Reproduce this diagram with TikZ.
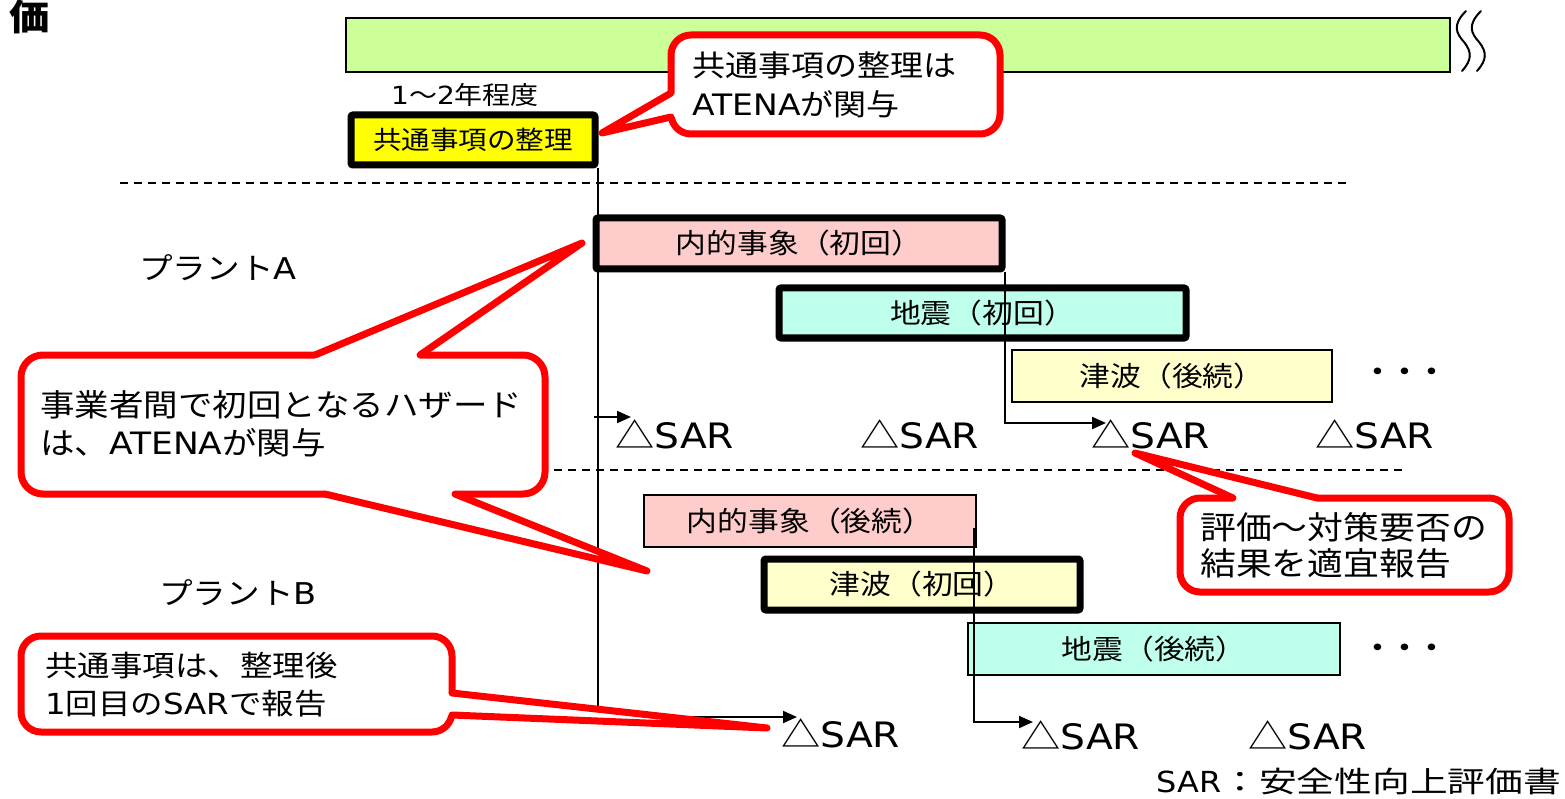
\documentclass[tikz,border=0pt]{standalone}
\usepackage{fontspec}
\setmainfont[FakeStretch=1.12]{Noto Sans CJK JP}
\newfontfamily\latfam[FakeStretch=1.12]{DejaVu Sans}
\newfontfamily\legendfont[FakeStretch=1.3]{Noto Sans CJK JP}
\newfontfamily\legendlatfam[FakeStretch=1.1]{DejaVu Sans}
\newcommand{\LatTxt}[1]{{\latfam #1}}
\newcommand{\LegLat}[1]{{\legendlatfam #1}}
\usetikzlibrary{arrows.meta,calc}

\definecolor{barg}{HTML}{CCFF99}
\definecolor{boxyel}{HTML}{FFFF00}
\definecolor{boxpink}{HTML}{FFCCCC}
\definecolor{boxcyan}{HTML}{BFFFEE}
\definecolor{boxlyel}{HTML}{FFFFCC}
\definecolor{callred}{HTML}{FF0000}

\begin{document}
\begin{tikzpicture}[x=1pt,y=-1pt,
  thickbox/.style={draw=black, line width=7pt, rounded corners=2pt, inner sep=0pt, font=\fontsize{27.5}{32}\selectfont},
  thinbox/.style={draw=black, line width=1.8pt, inner sep=0pt, font=\fontsize{27.5}{32}\selectfont},
  conn/.style={line width=2pt, draw=black},
  arr/.style={conn, -{Triangle[length=14pt,width=12pt]}},
  sar/.style={anchor=west, inner sep=0pt, font=\fontsize{35}{38}\selectfont},
  callbox/.style={draw=callred, fill=white, line width=7pt, rounded corners=20pt, inner sep=0pt},
  callline/.style={draw=callred, line width=7pt, line join=round, line cap=round},
  calltext/.style={anchor=west, align=left, inner sep=0pt},
  dashline/.style={line width=1.6pt, dash pattern=on 8pt off 6pt},
  dotsnode/.style={inner sep=0pt, font=\bfseries\fontsize{24}{24}\selectfont},
  plainlabel/.style={inner sep=0pt, font=\fontsize{30}{32}\selectfont},
  squig/.style={line width=2pt, line cap=round}
]
\useasboundingbox (0,0) rectangle (1565,799);

% title fragment
\node[inner sep=0pt, font=\bfseries\fontsize{36}{36}\selectfont] (title) at (30,17) {価};

% green bar and break marks
\node[draw=black, line width=1.5pt, fill=barg, minimum width=1104pt, minimum height=54pt, inner sep=0pt] (bar) at (898,45) {};
\draw[squig] (1466,11) .. controls (1452,25) and (1456,33) .. (1464,42) .. controls (1472,52) and (1472,60) .. (1462,71);
\draw[squig] (1481,11) .. controls (1467,25) and (1471,33) .. (1479,42) .. controls (1487,52) and (1487,60) .. (1477,71);

% common item
\node[inner sep=0pt, font=\fontsize{25}{28}\selectfont] (dur) at (465,95) {\LatTxt{1}〜\LatTxt{2}年程度};
\node[thickbox, fill=boxyel, minimum width=244pt, minimum height=50pt, font=\fontsize{25.5}{30}\selectfont] (yel) at (473,140) {共通事項の整理};

% dashed separators
\coordinate (d1a) at (120,183);
\coordinate (d1b) at (1350,183);
\draw[dashline] (d1a) -- (d1b);
\coordinate (d2a) at (120,470);
\coordinate (d2b) at (1402,470);
\draw[dashline] (d2a) -- (d2b);

% plant labels
\node[plainlabel] (plA) at (218,268) {プラント\LatTxt{A}};
\node[plainlabel] (plB) at (238,593) {プラント\LatTxt{B}};

% plant A boxes
\node[thickbox, fill=boxpink, minimum width=406pt, minimum height=51pt] (ia) at (799,243.5) {内的事象（初回）};
\node[thickbox, fill=boxcyan, minimum width=407pt, minimum height=50pt] (ja) at (982.5,313) {地震（初回）};
\node[thinbox, fill=boxlyel, minimum width=320pt, minimum height=52pt] (ta) at (1172,376) {津波（後続）};
\node[dotsnode] (dotsA) at (1405,374) {・・・};

% plant B boxes
\node[thinbox, fill=boxpink, minimum width=332pt, minimum height=52pt] (ib) at (810,521) {内的事象（後続）};
\node[thickbox, fill=boxlyel, minimum width=316pt, minimum height=51pt] (tb) at (922,584.5) {津波（初回）};
\node[thinbox, fill=boxcyan, minimum width=372pt, minimum height=52pt] (jb) at (1154,649) {地震（後続）};
\node[dotsnode] (dotsB) at (1405,650) {・・・};

% SAR marks
\node[sar] (sa1) at (615,434) {△\LatTxt{SAR}};
\node[sar] (sa2) at (860,434) {△\LatTxt{SAR}};
\node[sar] (sa3) at (1091,434) {△\LatTxt{SAR}};
\node[sar] (sa4) at (1315,434) {△\LatTxt{SAR}};
\node[sar] (sb1) at (781,733) {△\LatTxt{SAR}};
\node[sar] (sb2) at (1021,735) {△\LatTxt{SAR}};
\node[sar] (sb3) at (1248,735) {△\LatTxt{SAR}};

% connectors
\coordinate (pa1) at (631,417);
\coordinate (ja1) at (594,417);
\coordinate (pa3) at (1106,423);
\coordinate (pb1) at (797,717);
\coordinate (pb2) at (1033,722);
\draw[arr] ($(yel.south east)+(-1,0)$) |- (pb1);
\draw[arr] (ja1) -- (pa1);
\draw[arr] ($(ia.south east)+(-1,0)$) |- (pa3);
\draw[arr] ($(ib.east)+(-3,7)$) |- (pb2);

% legend
\node[inner sep=0pt, anchor=east, font=\legendfont\fontsize{29}{32}\selectfont] (legend) at (1561,781) {\LegLat{SAR}：安全性向上評価書};

% callout 1 (top)
\node[callbox, minimum width=329pt, minimum height=99pt] (cb1) at (835.5,84.5) {};
\coordinate (t1) at (602,133);
\fill[white] (671,93) -- (t1) -- (671,117) -- (681,117) -- (681,93) -- cycle;
\draw[callline] (671,93) -- (t1) -- (671,117);
\node[calltext, font=\fontsize{29.5}{39}\selectfont] (ct1) at (692,85) {共通事項の整理は\\\LatTxt{ATENA}が関与};

% callout 2 (big left)
\node[callbox, rounded corners=22pt, minimum width=524pt, minimum height=139pt] (cb2) at (283,424.5) {};
\coordinate (t2a) at (582,243);
\coordinate (t2b) at (647,571);
\fill[white] (315,355) -- (t2a) -- (420,355) -- (420,365) -- (315,365) -- cycle;
\draw[callline] (315,355) -- (t2a) -- (420,355);
\fill[white] (455,494) -- (t2b) -- (325,494) -- (325,484) -- (455,484) -- cycle;
\draw[callline] (455,494) -- (t2b) -- (325,494);
\node[calltext, font=\fontsize{30.8}{38}\selectfont] (ct2) at (40,424) {事業者間で初回となるハザード\\は、\LatTxt{ATENA}が関与};

% callout 3 (right)
\node[callbox, minimum width=329pt, minimum height=94pt] (cb3) at (1344.5,545) {};
\coordinate (t3) at (1135,453);
\fill[white] (1233,498) -- (t3) -- (1317,498) -- (1317,508) -- (1233,508) -- cycle;
\draw[callline] (1233,498) -- (t3) -- (1317,498);
\node[calltext, font=\fontsize{32}{36}\selectfont] (ct3) at (1200,545.5) {評価〜対策要否の\\結果を適宜報告};

% callout 4 (bottom left)
\node[callbox, minimum width=431pt, minimum height=96pt] (cb4) at (236.5,684) {};
\coordinate (t4) at (767,728);
\fill[white] (452,693) -- (t4) -- (452,715) -- (442,715) -- (442,693) -- cycle;
\draw[callline] (452,693) -- (t4) -- (452,715);
\node[calltext, font=\fontsize{29}{38}\selectfont] (ct4) at (45,685) {共通事項は、整理後\\\LatTxt{1}回目の\LatTxt{SAR}で報告};

\end{tikzpicture}
\end{document}
